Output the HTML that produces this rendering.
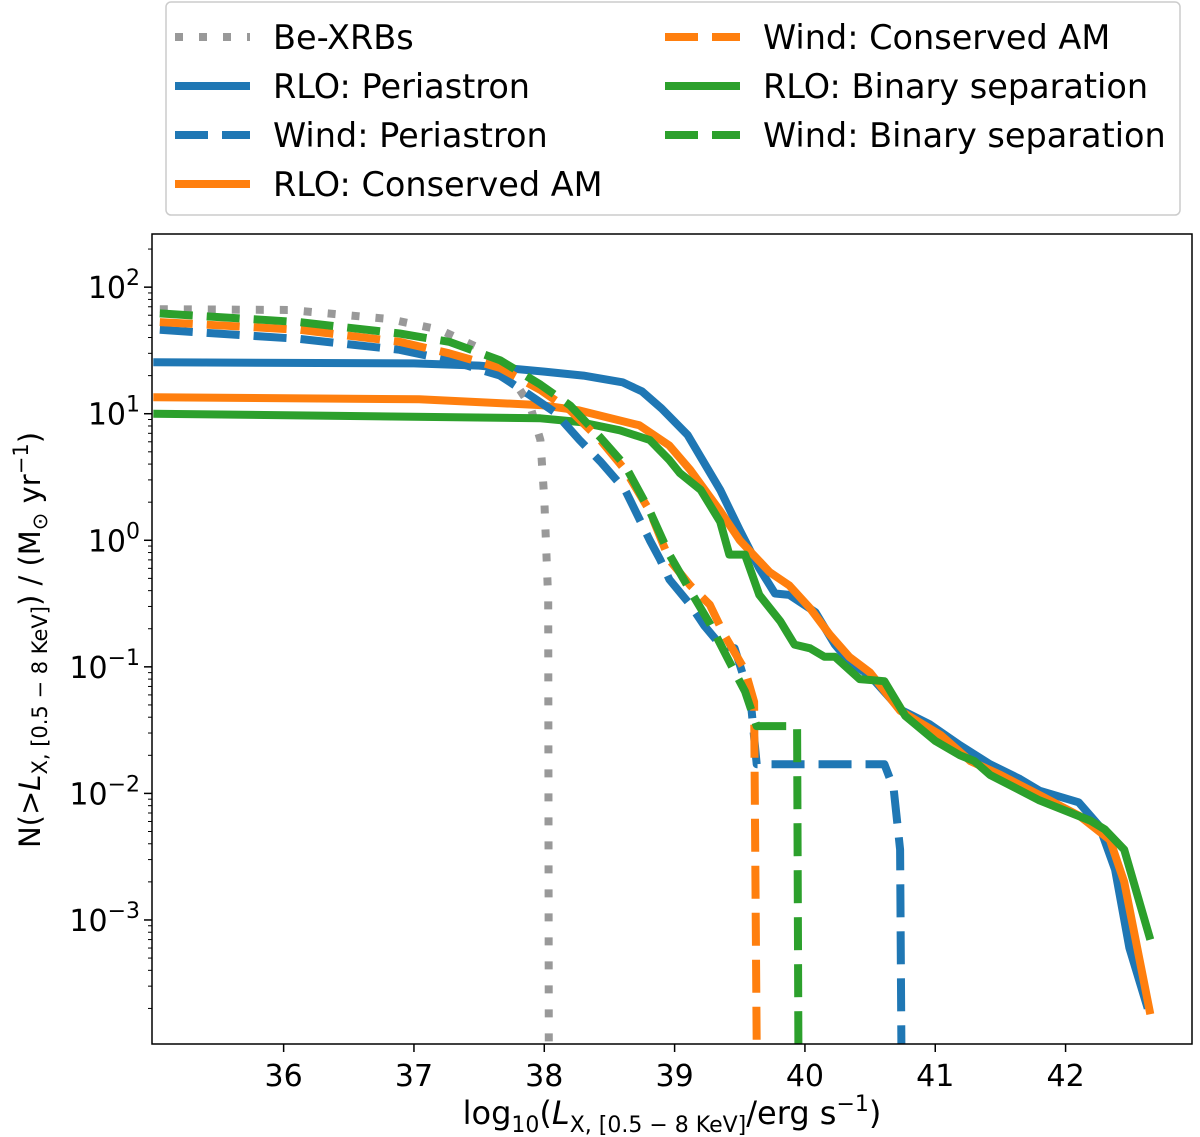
<!DOCTYPE html>
<html><head><meta charset="utf-8"><style>
body{margin:0;background:#fff;}
svg{display:block;font-family:"DejaVu Sans","Liberation Sans",sans-serif;}
</style></head><body>
<svg id="chart" width="1200" height="1137" viewBox="0 0 1200 1137" xmlns="http://www.w3.org/2000/svg"></svg>
<script>
const xTicks=[36,37,38,39,40,41,42];
const yTickExps=[2,1,0,-1,-2,-3];
const beX=[35.05,36.05,36.81,37.2,37.5,37.74,37.89,37.97,38.0,38.03,38.035];
const beY=[67,66,56,46,33,20,11.7,6.2,2.1,0.34,1e-4];
const rloPeriX=[35.0,37.0,37.5,38.0,38.3,38.6,38.75,38.9,39.1,39.35,39.5,39.65,39.77,39.88,40.08,40.23,40.34,40.5,40.73,40.96,41.19,41.42,41.65,41.8,42.1,42.26,42.38,42.49,42.63];
const rloPeriY=[25.5,25,24,21.5,20,17.7,15,11,6.8,2.5,1.2,0.6,0.38,0.37,0.27,0.15,0.11,0.085,0.046,0.035,0.024,0.017,0.013,0.0105,0.0085,0.0055,0.0025,0.0006,0.0002];
const rloAmX=[35.0,37.04,37.97,38.27,38.73,38.96,39.12,39.35,39.5,39.73,39.88,40.04,40.19,40.34,40.5,40.73,41.04,41.27,41.5,41.8,42.11,42.34,42.45,42.65];
const rloAmY=[13.5,13,11.7,10.6,8.1,5.6,3.6,1.7,1.0,0.56,0.44,0.29,0.18,0.12,0.09,0.045,0.029,0.018,0.014,0.0097,0.0066,0.0043,0.002,0.00018];
const rloSepX=[35.0,37.97,38.27,38.58,38.81,38.96,39.04,39.2,39.35,39.42,39.54,39.65,39.81,39.92,40.04,40.15,40.23,40.42,40.61,40.77,41.0,41.19,41.3,41.42,41.8,42.19,42.3,42.45,42.65];
const rloSepY=[10,9.2,8.6,7.4,6.2,4.3,3.4,2.5,1.4,0.77,0.77,0.37,0.23,0.15,0.14,0.12,0.12,0.08,0.077,0.041,0.026,0.02,0.018,0.014,0.0088,0.0061,0.0052,0.0036,0.0007];
const windPeriX=[35.05,36.12,36.89,37.27,37.66,37.89,38.08,38.27,38.43,38.62,38.81,38.89,38.96,39.12,39.23,39.35,39.46,39.54,39.59,39.63,40.61,40.68,40.73,40.74];
const windPeriY=[46,39,32,26.5,20,14,10.3,6.2,4.2,2.5,1.0,0.7,0.49,0.31,0.21,0.15,0.14,0.077,0.046,0.017,0.017,0.011,0.0036,1e-4];
const windAmX=[35.05,36.12,36.89,37.27,37.66,37.97,38.2,38.43,38.62,38.81,38.96,39.12,39.27,39.38,39.54,39.61,39.63];
const windAmY=[53,46,37,30,23,15.4,10.6,6.2,3.6,1.7,0.7,0.44,0.31,0.18,0.094,0.053,1e-4];
const windSepX=[35.05,36.12,36.89,37.27,37.66,37.97,38.2,38.43,38.62,38.81,38.96,39.12,39.27,39.42,39.54,39.63,39.94,39.95];
const windSepY=[62,53,43,37,26.5,17,11.6,6.5,3.9,1.7,0.77,0.4,0.22,0.11,0.064,0.034,0.034,1e-4];

const L=152,R=1192,T=234,B=1044;
const xMin=34.99,xMax=42.97,lMin=-3.98,lMax=2.42;
const sx=v=>L+(v-xMin)/(xMax-xMin)*(R-L);
const sy=v=>T+(lMax-Math.log10(Math.max(v,1e-6)))/(lMax-lMin)*(B-T);
const NS="http://www.w3.org/2000/svg";
const svg=document.getElementById('chart');
function mk(tag,at,parent){const e=document.createElementNS(NS,tag);for(const k in at)e.setAttribute(k,at[k]);(parent||svg).appendChild(e);return e;}

const clip=mk('clipPath',{id:'pc'});mk('rect',{x:L,y:T,width:R-L,height:B-T},clip);
const plot=mk('g',{'clip-path':'url(#pc)'});



const series=[
 {n:'be-xrbs-line',x:beX,y:beY,c:'#999999',d:'8,16'},
 {n:'rlo-periastron-line',x:rloPeriX,y:rloPeriY,c:'#1f77b4',d:''},
 {n:'rlo-conserved-am-line',x:rloAmX,y:rloAmY,c:'#ff7f0e',d:''},
 {n:'rlo-binary-separation-line',x:rloSepX,y:rloSepY,c:'#2ca02c',d:''},
 {n:'wind-periastron-line',x:windPeriX,y:windPeriY,c:'#1f77b4',d:'33,14'},
 {n:'wind-conserved-am-line',x:windAmX,y:windAmY,c:'#ff7f0e',d:'33,14'},
 {n:'wind-binary-separation-line',x:windSepX,y:windSepY,c:'#2ca02c',d:'33,14'}
];
for(const s of series){
 const pts=s.x.map((v,i)=>sx(v).toFixed(1)+','+sy(s.y[i]).toFixed(1)).join(' ');
 const p=mk('polyline',{points:pts,fill:'none',stroke:s.c,'stroke-width':8,'stroke-linejoin':'round'},plot);
 if(s.d)p.setAttribute('stroke-dasharray',s.d);
 
 
}
const frame=mk('rect',{x:L,y:T,width:R-L,height:B-T,fill:'none',stroke:'#000','stroke-width':1.5});



for(const t of xTicks){
 const X=sx(t);
 mk('line',{x1:X,x2:X,y1:B,y2:B+8,stroke:'#000','stroke-width':1.5});
 const tx=mk('text',{x:X,y:B+42,'font-size':30,'text-anchor':'middle'});tx.textContent=t;
 
 
}
for(let e=-4;e<=2;e++){for(let m=1;m<10;m++){const v=m*Math.pow(10,e);const lv=Math.log10(v);if(lv<lMin||lv>lMax)continue;const Y=sy(v);mk('line',{x1:L-(m==1?8:4),x2:L,y1:Y,y2:Y,stroke:'#000','stroke-width':m==1?1.5:1});}}
for(const e of yTickExps){
 const Y=sy(Math.pow(10,e));
 const tx=mk('text',{x:L-12,y:Y+11,'font-size':30,'text-anchor':'end'});
 tx.innerHTML='10<tspan dy="-13" font-size="22">'+(e<0?'\u2212'+(-e):e)+'</tspan>';
 
 
}
const xl=mk('text',{x:672,y:1124,'font-size':32,'text-anchor':'middle'});
xl.innerHTML='log<tspan dy="8" font-size="22">10</tspan><tspan dy="-8">(</tspan><tspan font-style="italic">L</tspan><tspan dy="8" font-size="22">X, [0.5 \u2212 8 KeV]</tspan><tspan dy="-8">/erg s</tspan><tspan dy="-13" font-size="22">\u22121</tspan><tspan dy="13">)</tspan>';


const yl=mk('text',{x:0,y:0,'font-size':29,'text-anchor':'middle',transform:'translate(40,640) rotate(-90)'});
yl.innerHTML='N(&gt;<tspan font-style="italic">L</tspan><tspan dy="7" font-size="21">X, [0.5 \u2212 8 KeV]</tspan><tspan dy="-7">) / (M</tspan><tspan dy="7" font-size="21">\u2299</tspan><tspan dy="-7"> yr</tspan><tspan dy="-12" font-size="21">\u22121</tspan><tspan dy="12">)</tspan>';



const lg=mk('g',{});


mk('rect',{x:166,y:2,width:1014,height:213,rx:5,fill:'#fff',stroke:'#ccc','stroke-width':1.5},lg);
const entries=[
 ['Be-XRBs','#999999','8,16',0,0],['RLO: Periastron','#1f77b4','',0,1],['Wind: Periastron','#1f77b4','33,14',0,2],['RLO: Conserved AM','#ff7f0e','',0,3],
 ['Wind: Conserved AM','#ff7f0e','33,14',1,0],['RLO: Binary separation','#2ca02c','',1,1],['Wind: Binary separation','#2ca02c','33,14',1,2]
];
for(const en of entries){
 const x0=en[3]?665:175, yy=37+en[4]*49;
 const g=mk('g',{},lg);
 
 
 const ln=mk('line',{x1:x0,x2:x0+75,y1:yy,y2:yy,stroke:en[1],'stroke-width':8},g);
 if(en[2])ln.setAttribute('stroke-dasharray',en[2]);
 const t=mk('text',{x:x0+98,y:yy+12,'font-size':33.5},g);t.textContent=en[0];
}
</script>
</body></html>
